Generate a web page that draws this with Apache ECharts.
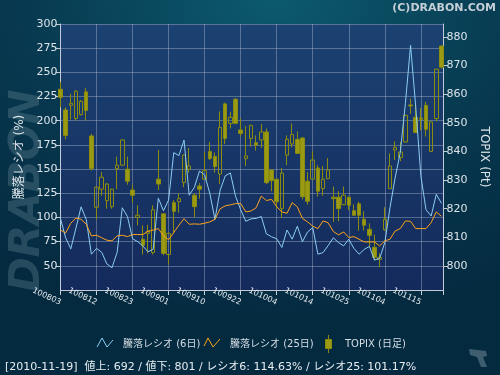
<!DOCTYPE html>
<html><head><meta charset="utf-8">
<script src="https://cdn.jsdelivr.net/npm/echarts@6/dist/echarts.min.js"></script>
<style>
html,body{margin:0;padding:0;width:500px;height:375px;overflow:hidden;
background:radial-gradient(ellipse 95% 85% at 55% 0%, #0c5a6e 0%, #07384f 55%, #042a40 100%);}
#c{width:500px;height:375px;}
</style></head>
<body><div id="c"></div>
<script>
const dateLabels = ['100803','100812','100823','100901','100910','100922','101004','101014','101025','101104','101115'];
const ratio6 = [98.8,79,67.5,89,111,98,62,68,64,52, 48,64,110,101,78,75,70.5,64.5,67,120, 107,118,167,164,180,123,131,148,144,125, 98,128,143,146,122,108,96,98.5,99,101, 83,80,78,69,87,77.5,91,75,85,89.5, 62,63.7,71,79,74,70.6,77.5,68,62,67, 70,56,57.6,74,110,141,167,218,278,215, 143,108,101.5,124,114.63];
const ratio25 = [87,84,94,99.5,98,93,81,81.6,79,76.5, 75.8,81,81.6,80.2,82.3,82.3,82.3,85.7,87,88.5, 81,77,84.4,92,98.8,93,93.3,93,94,95.4, 98,109,112,113,114.3,114.3,105.7,106.7,110,122, 117.5,118.7,111,105.7,104.3,115.3,111,99,95.4,91, 88.5,96.4,94.5,85.5,82,85,79.2,80.2,77.5,74.7, 74.7,74.7,70.6,75.8,77.5,86,88.5,96.4,96,88.5, 88.5,88.5,94.7,105.7,101.17];
const topixOpen = [861.7,854.5,856.1,851.5,852.9,860.8,845.4,820.5,826.8,822.8, 820.7,834.0,835.2,833.8,826.5,817.0,809.3,811.4,804.7,830.3, 818.2,804.0,822.1,822.4,829.1,833.8,824.7,827.9,830.3,840.0, 838.2,832.1,856.6,849.8,858.2,847.5,837.5,844.5,843.0,844.0, 846.8,833.5,830.3,820.0,838.7,842.6,844.2,844.7,829.6,830.3, 834.2,827.0,830.5,824.0,824.0,821.4,824.0,819.3,821.7,816.3, 812.8,806.5,802.3,812.6,827.0,840.5,837.9,843.3,856.2,851.9, 851.6,856.1,840.0,851.5,876.8];
const topixClose = [858.9,845.6,856.8,861.0,857.5,854.3,834.0,827.5,831.0,828.6, 826.8,835.2,844.0,829.6,824.7,817.7,807.2,812.1,819.6,828.6, 804.4,811.4,819.1,823.5,838.7,834.9,820.7,826.8,833.3,837.5, 834.7,848.4,844.5,851.9,849.8,846.3,838.4,849.1,842.2,846.8, 829.1,829.8,822.4,832.4,844.2,845.9,839.3,824.2,822.6,837.0, 826.1,830.3,833.5,823.5,820.0,824.7,821.2,817.7,817.7,814.2, 810.7,803.0,803.0,816.3,834.9,841.4,839.8,852.6,855.9,846.6, 851.2,847.7,850.3,868.7,869.4];
const topixLow = [855.4,844.2,851.2,850.8,852.5,850.8,833.3,816.3,824.5,820.0, 820.0,826.8,835.0,828.4,822.1,814.2,804.0,804.4,804.0,826.5, 803.7,800.5,811.4,818.6,827.5,832.6,817.0,823.5,830.1,837.0, 832.6,828.6,842.6,848.0,849.6,845.2,834.9,841.7,840.3,841.2, 828.6,826.1,820.0,816.8,835.2,841.4,839.1,823.3,821.4,830.1, 824.2,824.5,830.3,815.4,815.6,821.2,819.6,817.5,812.3,812.3, 806.8,801.9,799.5,812.4,826.8,837.0,836.6,843.1,853.1,846.4, 847.4,845.2,839.8,850.5,868.9];
const topixHigh = [864.3,855.4,860.1,861.5,858.0,862.2,846.1,827.8,832.8,829.0, 827.0,838.2,844.2,838.2,828.4,821.2,814.2,814.4,821.2,840.5, 818.4,811.6,823.0,825.4,838.9,841.2,825.4,828.9,839.8,843.3, 839.6,854.0,857.0,853.8,858.7,851.5,848.9,849.3,845.6,849.6, 848.0,833.7,830.5,834.2,845.6,849.8,847.0,844.9,832.8,840.0, 835.2,834.9,837.7,827.7,826.1,827.7,824.2,821.5,822.4,819.1, 814.9,810.9,804.4,820.5,839.3,843.5,843.3,852.8,858.4,856.8, 855.1,857.3,850.5,868.9,877.0];
const leftTicks = [50,75,100,125,150,175,200,225,250,275,300];
const rightTicks = [800,810,820,830,840,850,860,870,880];
const legendNames = ['騰落レシオ (6日)','騰落レシオ (25日)','TOPIX (日足)'];
const infoText = '[2010-11-19]  値上: 692 / 値下: 801 / レシオ6: 114.63% / レシオ25: 101.17%';

const FONT = '"DejaVu Sans","Noto Sans CJK JP",sans-serif';
const axisCol = '#c3ccd4';
const labCol = '#dce3e8';
const blue = '#8ccdf2';
const orange = '#ffa31a';
const olive = '#9a9a14';
const oliveB = '#8c8c0c';

const chart = echarts.init(document.getElementById('c'), null, {renderer:'canvas'});
const candleData = topixOpen.map((o,i)=>[i,o,topixClose[i],topixLow[i],topixHigh[i]]);
chart.setOption({
  backgroundColor: 'transparent',
  animation: false,
  textStyle: {fontFamily: FONT},
  grid: {left: 60.5, right: 56.5, top: 24, bottom: 85, show: true, borderWidth: 0,
    backgroundColor: {type:'linear', x:0, y:0, x2:0, y2:1, colorStops:[{offset:0,color:'#1b4272'},{offset:1,color:'#142a5c'}]}},
  xAxis: {type:'value', min:0, max:74.4, interval:7,
    axisLine:{show:true, onZero:false, lineStyle:{color:axisCol}},
    axisTick:{show:true, length:5, lineStyle:{color:axisCol}},
    splitLine:{show:true, lineStyle:{color:'rgba(190,200,215,0.38)'}},
    axisLabel:{color:'#e4eaee', fontSize:8, fontFamily:'"DejaVu Sans",sans-serif',
      rotate:-25, align:'right', verticalAlign:'middle', margin:13,
      formatter: v => { const k = Math.round(v/7); return (Math.abs(v-k*7) < 1e-6 && dateLabels[k]) ? dateLabels[k] : ''; }}
  },
  yAxis: [
    {type:'value', position:'left', min:25, max:300, interval:25,
      name:'騰落レシオ (%)', nameLocation:'middle', nameGap:33,
      nameTextStyle:{color:labCol, fontSize:12, fontFamily:FONT},
      axisLine:{show:true, lineStyle:{color:axisCol}},
      axisTick:{show:true, length:5, lineStyle:{color:axisCol}},
      axisLabel:{color:labCol, fontSize:11, margin:3, showMinLabel:false, fontFamily:FONT},
      splitLine:{show:true, lineStyle:{color:'rgba(190,200,215,0.38)'}}
    },
    {type:'value', position:'right', min:791.6, max:884.5,
      name:'TOPIX (Pt)', nameLocation:'middle', nameGap:28, nameRotate:-90,
      nameTextStyle:{color:labCol, fontSize:12, fontFamily:FONT},
      axisLine:{show:true, lineStyle:{color:axisCol}},
      axisTick:{show:true, length:4, customValues:rightTicks, lineStyle:{color:axisCol}},
      axisLabel:{color:labCol, fontSize:11, margin:3, customValues:rightTicks, fontFamily:FONT},
      splitLine:{show:false}
    }
  ],
  series: [
    {name:legendNames[2], type:'candlestick', yAxisIndex:1, barWidth:4, clip:true,
      data:candleData, encode:{x:0, y:[1,2,3,4]},
      itemStyle:{color:'rgba(0,0,0,0)', color0:olive, borderColor:oliveB, borderColor0:oliveB, borderWidth:1}},
    {name:legendNames[0], type:'line', yAxisIndex:0, symbol:'none', data:ratio6.map((v,i)=>[i,v]),
      lineStyle:{color:blue, width:1}},
    {name:legendNames[1], type:'line', yAxisIndex:0, symbol:'none', data:ratio25.map((v,i)=>[i,v]),
      lineStyle:{color:orange, width:1}}
  ],
  graphic: [
    {type:'text', z:-10, x:49, y:292, rotation:Math.PI/2,
      style:{text:'DRABON', fill:'rgba(120,148,162,0.3)', font:'italic bold 42px "DejaVu Sans",sans-serif', textAlign:'left', textVerticalAlign:'bottom'}},
    {type:'text', x:496, y:8, style:{text:'(C)DRABON.COM', fill:'#c5cfd6', font:'bold 11px "DejaVu Sans",sans-serif', textAlign:'right', textVerticalAlign:'middle'}},
    {type:'polyline', shape:{points:[[97,347],[102,338],[107,347],[113,340]]}, style:{stroke:blue, lineWidth:1, fill:null}},
    {type:'text', x:123, y:344, style:{text:legendNames[0], fill:'#d5dde3', font:'10px '+FONT, textVerticalAlign:'middle'}},
    {type:'polyline', shape:{points:[[204,346],[208,338],[213,347],[220,339]]}, style:{stroke:orange, lineWidth:1, fill:null}},
    {type:'text', x:230, y:344, style:{text:legendNames[1], fill:'#d5dde3', font:'10px '+FONT, textVerticalAlign:'middle'}},
    {type:'line', shape:{x1:328.5, y1:335, x2:328.5, y2:353}, style:{stroke:oliveB, lineWidth:1}},
    {type:'rect', shape:{x:325.5, y:339.5, width:6, height:9}, style:{fill:olive, stroke:oliveB, lineWidth:1}},
    {type:'text', x:345, y:344, style:{text:legendNames[2], fill:'#d5dde3', font:'10px '+FONT, textVerticalAlign:'middle'}},
    {type:'text', x:5, y:367, style:{text:infoText, fill:'#e6ecf0', font:'11px '+FONT, textVerticalAlign:'middle'}},
    {type:'polygon', shape:{points:[[469,349],[486,351],[487,356],[483,357],[487,367],[481,367],[477,357],[470,355]]}, style:{fill:'rgba(120,145,158,0.5)'}}
  ]
});
</script>
</body></html>
